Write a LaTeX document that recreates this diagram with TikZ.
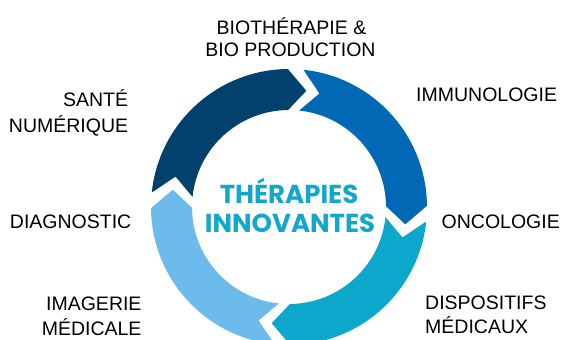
\documentclass[tikz,border=0pt]{standalone}
\usepackage{fontspec}
\setmainfont{Liberation Sans}
\newfontfamily\centerfont{Poppins}
\definecolor{segnavy}{HTML}{02406E}
\definecolor{segblue}{HTML}{0068B4}
\definecolor{segcyan}{HTML}{0CA8CC}
\definecolor{seglight}{HTML}{6CBBEB}
\definecolor{centertext}{HTML}{14A7CE}
\newcommand\ringseg[2]{%
  \pgfmathsetmacro\segTa{#1-6.5}%
  \pgfmathsetmacro\segHb{#1-90}%
  \pgfmathsetmacro\segTip{#1-99}%
  \pgfmathsetmacro\segNotch{#1-15.5}%
  \fill[#2] (\segTa:\Ro) arc[start angle=\segTa, end angle=\segHb, radius=\Ro]
    -- (\segTip:\Rm) -- (\segHb:\Ri)
    arc[start angle=\segHb, end angle=\segTa, radius=\Ri]
    -- (\segNotch:\Rm) -- cycle;}
\def\Ro{138pt}
\def\Ri{97pt}
\def\Rm{117.5pt}
\begin{document}
\begin{tikzpicture}[x=1pt,y=-1pt,
  lbl/.style={inner sep=0pt, font=\fontsize{19.5}{23}\selectfont, text=black},
  ctr/.style={inner sep=0pt, font=\centerfont\bfseries\fontsize{26}{30}\selectfont, text=centertext}]
\useasboundingbox (0,0) rectangle (563,340);
\coordinate (C) at (289,207);
\begin{scope}[shift={(C)}, x=1pt, y=1pt]
  \ringseg{180.5}{segnavy}
  \ringseg{90.5}{segblue}
  \ringseg{0.5}{segcyan}
  \ringseg{-89.5}{seglight}
\end{scope}
\node[ctr, anchor=base] (ct1) at (289,203.3) {THÉRAPIES};
\node[ctr, anchor=base] (ct2) at (290,232.7) {INNOVANTES};
\node[lbl, anchor=base] (bio1) at (291.5,34.3) {BIOTHÉRAPIE \&};
\node[lbl, anchor=base] (bio2) at (290.5,56.7) {BIO PRODUCTION};
\node[lbl, anchor=base east] (sante1) at (128.3,106.7) {SANTÉ};
\node[lbl, anchor=base east] (sante2) at (128.3,132.7) {NUMÉRIQUE};
\node[lbl, anchor=base west] (immuno) at (416,101.7) {IMMUNOLOGIE};
\node[lbl, anchor=base east] (diag) at (131.5,228.8) {DIAGNOSTIC};
\node[lbl, anchor=base east] (onco) at (560,228.8) {ONCOLOGIE};
\node[lbl, anchor=base east] (imag1) at (141.7,310) {IMAGERIE};
\node[lbl, anchor=base east] (imag2) at (141.7,335) {MÉDICALE};
\node[lbl, anchor=base west] (dispo1) at (425,309.3) {DISPOSITIFS};
\node[lbl, anchor=base west] (dispo2) at (425,333.3) {MÉDICAUX};
\end{tikzpicture}
\end{document}
